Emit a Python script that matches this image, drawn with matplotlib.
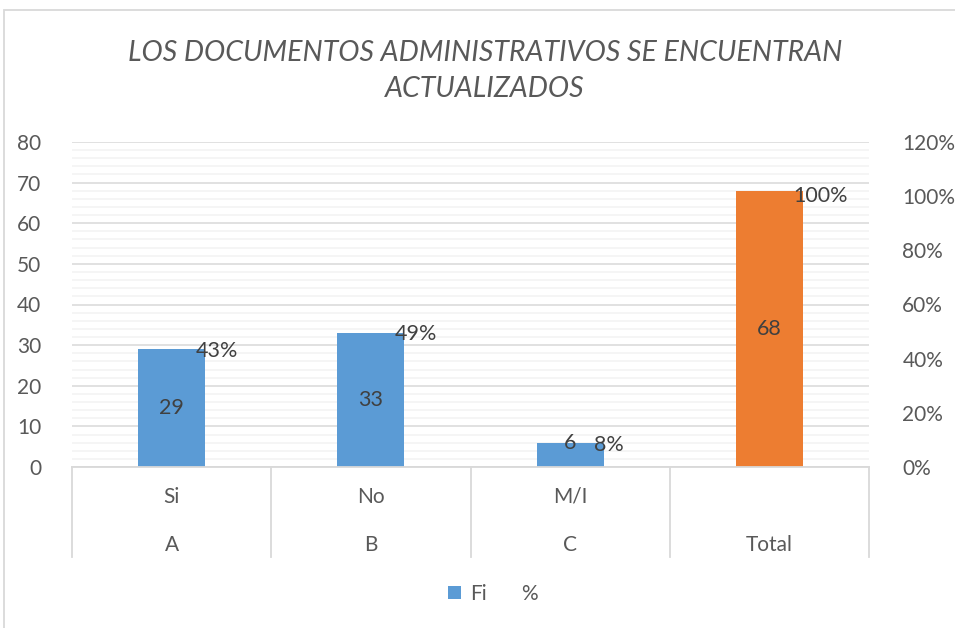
import numpy as np
import matplotlib.pyplot as plt
from matplotlib.ticker import MultipleLocator, PercentFormatter
from matplotlib.patches import Patch, Rectangle

# data
level1 = ["Si", "No", "M/I", ""]
level2 = ["A", "B", "C", "Total"]
fi = [29, 33, 6, 68]
pct = [0.43, 0.49, 0.08, 1.00]
bar_colors = ["#5B9BD5", "#5B9BD5", "#5B9BD5", "#ED7D31"]
title = "LOS DOCUMENTOS ADMINISTRATIVOS SE ENCUENTRAN\nACTUALIZADOS"

plt.rcParams['font.family'] = ['Lato', 'DejaVu Sans']
txt = "#595959"

fig = plt.figure(figsize=(9.55, 6.28), dpi=100)
ax = fig.add_axes([72/955, 1 - 467/628, 797/955, 325/628])
ax2 = ax.twinx()

x = np.arange(len(fi))
ax.bar(x, fi, width=0.336, color=bar_colors, zorder=3)
ax.set_xlim(-0.5, len(fi) - 0.5)
ax.set_ylim(0, 80)
ax.yaxis.set_major_locator(MultipleLocator(10))
ax.yaxis.set_minor_locator(MultipleLocator(2))
ax.grid(axis='y', which='major', color='#D9D9D9', lw=1.1, zorder=1)
ax.grid(axis='y', which='minor', color='#F2F2F2', lw=1.1, zorder=0)
ax.tick_params(axis='y', which='both', length=0, labelsize=15, labelcolor=txt, pad=22)
ax.set_xticks([])
for s in ax.spines.values():
    s.set_visible(False)

ax2.set_ylim(0, 1.2)
ax2.yaxis.set_major_locator(MultipleLocator(0.2))
ax2.yaxis.set_major_formatter(PercentFormatter(1.0, decimals=0))
ax2.tick_params(axis='y', length=0, labelsize=15, labelcolor=txt, pad=24)
for s in ax2.spines.values():
    s.set_visible(False)

# labels for Fi inside bars
for i, v in enumerate(fi):
    yy = v / 2 if v > 10 else v
    ax.text(i, yy, str(v), ha='center', va='center', fontsize=15.5, color='#404040', zorder=4)

# % labels on secondary axis
for i, p in enumerate(pct):
    ax2.text(i + 0.12, p, f"{p:.0%}", ha='left', va='center', fontsize=15.5, color='#404040')

# multi-level category axis
tr = ax.get_xaxis_transform()
ax.plot([-0.5, len(fi) - 0.5], [0, 0], color='#D9D9D9', lw=1.3, transform=tr, clip_on=False, zorder=5)
for b in np.arange(-0.5, len(fi), 1.0):
    ax.plot([b, b], [0, -0.277], color='#D9D9D9', lw=1.3, transform=tr, clip_on=False)
for i in range(len(fi)):
    ax.text(i, -0.092, level1[i], transform=tr, ha='center', va='center', fontsize=15, color=txt)
    ax.text(i, -0.24, level2[i], transform=tr, ha='center', va='center', fontsize=15, color=txt)

fig.text(0.508, 0.887, title, ha='center', va='center', fontsize=20.5, style='italic',
         color=txt, linespacing=1.45)

handles = [Patch(facecolor='#5B9BD5', edgecolor='none'), Patch(facecolor='none', edgecolor='none')]
fig.legend(handles, ["Fi", "%"], loc='center', bbox_to_anchor=(0.516, 0.054), ncol=2,
           frameon=False, fontsize=15, labelcolor=txt, handlelength=0.6, handleheight=0.6,
           handletextpad=0.45, columnspacing=0.6)

fig.patches.append(Rectangle((4/955, -0.05), 1.1, 1 - 10/628 + 0.05, transform=fig.transFigure,
                             fill=False, edgecolor='#D9D9D9', lw=1.3))

fig.savefig("out.png", dpi=100)
